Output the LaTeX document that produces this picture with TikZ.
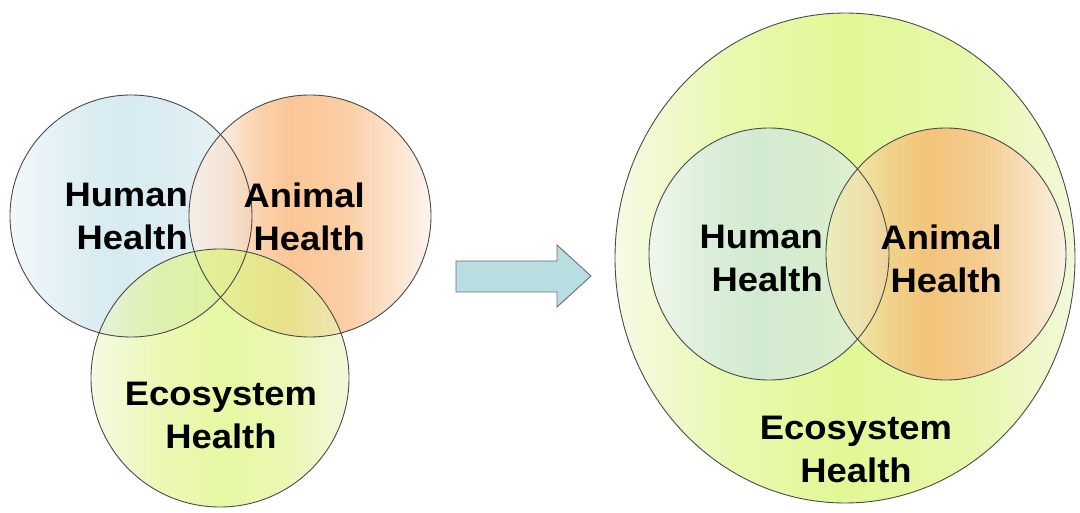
\documentclass[tikz,border=0pt]{standalone}
\usepackage{fontspec}
\newfontfamily\lblfont[FakeStretch=1.07]{Liberation Sans}
\definecolor{hL}{HTML}{EEF5F8}
\definecolor{hM}{HTML}{C7E3EB}
\definecolor{hR}{HTML}{E6F1F4}
\definecolor{aL}{HTML}{FCEEE6}
\definecolor{aM}{HTML}{F9B06C}
\definecolor{aR}{HTML}{FCEFE6}
\definecolor{aLr}{HTML}{F1EDB2}
\definecolor{eL}{HTML}{F6FAE6}
\definecolor{eM}{HTML}{E2F896}
\definecolor{eR}{HTML}{F2F8DA}
\definecolor{eLt}{HTML}{F0F7D2}
\definecolor{eMt}{HTML}{D8F36A}
\definecolor{eRt}{HTML}{EAF4C4}
\definecolor{arrowfill}{HTML}{B9DEE2}
\definecolor{outline}{HTML}{4A4A4A}
\pgfdeclarehorizontalshading{humanshade}{100bp}{color(0bp)=(hL); color(25bp)=(hL); color(38bp)=(hM!70!hL); color(47bp)=(hM); color(58bp)=(hM!80!hR); color(75bp)=(hR); color(100bp)=(hR)}
\pgfdeclarehorizontalshading{animalshade}{100bp}{color(0bp)=(aL); color(25bp)=(aL); color(33bp)=(aM!25!aL); color(39bp)=(aM!70!aL); color(46bp)=(aM); color(58bp)=(aM!80!aR); color(75bp)=(aR); color(100bp)=(aR)}
\pgfdeclarehorizontalshading{animalshader}{100bp}{color(0bp)=(aLr); color(25bp)=(aLr); color(33bp)=(aM!30!aLr); color(39bp)=(aM!70!aLr); color(46bp)=(aM); color(58bp)=(aM!80!aR); color(75bp)=(aR); color(100bp)=(aR)}
\pgfdeclarehorizontalshading{ecoshade}{100bp}{color(0bp)=(eL); color(25bp)=(eL); color(38bp)=(eM!70!eL); color(50bp)=(eM); color(62bp)=(eM!75!eR); color(75bp)=(eR); color(100bp)=(eR)}
\pgfdeclarehorizontalshading{ecoshadet}{100bp}{color(0bp)=(eLt); color(25bp)=(eLt); color(38bp)=(eMt!70!eLt); color(50bp)=(eMt); color(62bp)=(eMt!75!eRt); color(75bp)=(eRt); color(100bp)=(eRt)}
\begin{document}
\begin{tikzpicture}[x=1pt,y=-1pt,
  ring/.style={draw=outline, line width=0.9pt},
  lbl/.style={inner sep=0pt, font=\lblfont\bfseries\fontsize{34}{43}\selectfont, text=black},
  lblR/.style={lbl, align=right, anchor=north east},
  lblC/.style={lbl, align=center, anchor=north}]
\useasboundingbox (0,0) rectangle (1080,513);
% ---- left panel ----
\path[shading=humanshade, fill opacity=0.72] (131,216) circle (121);
\path[shading=animalshade, fill opacity=0.72] (310,216) circle (121);
\path[shading=ecoshadet, fill opacity=0.62] (220,378) circle (129);
\draw[ring] (131,216) circle (121);
\draw[ring] (310,216) circle (121);
\draw[ring] (220,378) circle (129);
\node[lblR] (lh) at (188,183) {Human\\Health};
\node[lblR] (la) at (365,183) {Animal\\Health};
\node[lblC] (le) at (221,382) {Ecosystem\\Health};
% ---- arrow ----
\draw[draw=outline!80, line width=0.9pt, fill=arrowfill]
  (456,261) -- (557,261) -- (557,245) -- (591,276) -- (557,307) -- (557,292) -- (456,292) -- cycle;
% ---- right panel ----
\path[shading=ecoshade] (845,258) ellipse [x radius=230, y radius=245];
\path[shading=humanshade, fill opacity=0.62] (769,254) ellipse [x radius=120, y radius=126];
\path[shading=animalshader, fill opacity=0.72] (946,254) ellipse [x radius=120, y radius=126];
\draw[ring] (845,258) ellipse [x radius=230, y radius=245];
\draw[ring] (769,254) ellipse [x radius=120, y radius=126];
\draw[ring] (946,254) ellipse [x radius=120, y radius=126];
\node[lblR] (rh) at (823,225) {Human\\Health};
\node[lblR] (ra) at (1002,225) {Animal\\Health};
\node[lblC] (re) at (856,416) {Ecosystem\\Health};
\end{tikzpicture}
\end{document}
